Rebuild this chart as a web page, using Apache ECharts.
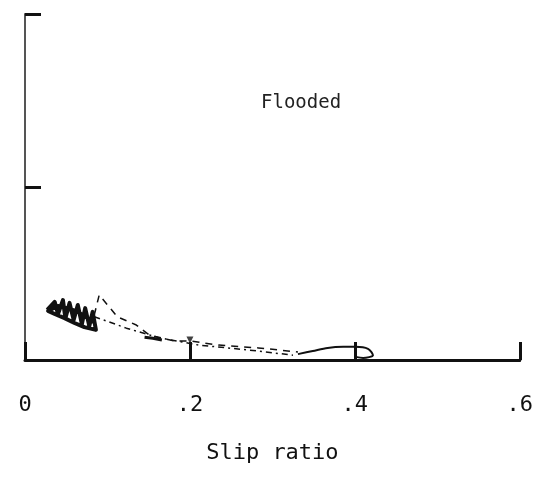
<!DOCTYPE html>
<html>
<head>
<meta charset="utf-8">
<script src="https://cdn.jsdelivr.net/npm/echarts@6/dist/echarts.min.js"></script>
<style>
  html, body { margin: 0; padding: 0; background: #fff; }
  #main { width: 536px; height: 497px; }
</style>
</head>
<body>
<div id="main"></div>
<script>
var xTicks = [0, 0.2, 0.4, 0.6];
var xTickLabels = ['0', '.2', '.4', '.6'];

// solid trace, scribbled cluster at low slip
var solidBlob = [
    [0.027, 0.145], [0.036, 0.168], [0.040, 0.133], [0.046, 0.173], [0.049, 0.121],
    [0.054, 0.165], [0.059, 0.116], [0.064, 0.159], [0.069, 0.104], [0.073, 0.150],
    [0.078, 0.098], [0.082, 0.139], [0.086, 0.087], [0.072, 0.095], [0.060, 0.107],
    [0.048, 0.121], [0.036, 0.133], [0.028, 0.142], [0.040, 0.156], [0.052, 0.150],
    [0.064, 0.139], [0.076, 0.121], [0.084, 0.110]
];
var solidMid = [[0.145, 0.066], [0.155, 0.063], [0.166, 0.058]];
// solid trace near .4 with its small loop
var solidEnd = [
    [0.331, 0.017], [0.349, 0.026], [0.367, 0.035], [0.386, 0.038], [0.401, 0.038],
    [0.416, 0.032], [0.422, 0.014], [0.410, 0.006], [0.401, 0.009]
];
// dashed trace
var dashed = [
    [0.084, 0.130], [0.090, 0.188], [0.112, 0.125], [0.135, 0.101], [0.151, 0.072],
    [0.181, 0.055], [0.200, 0.055], [0.235, 0.043], [0.283, 0.035], [0.331, 0.023]
];
// dash-dot trace
var dashDot = [
    [0.084, 0.125], [0.102, 0.110], [0.123, 0.092], [0.163, 0.064], [0.211, 0.043],
    [0.271, 0.029], [0.325, 0.014]
];
var marker = [[0.2, 0.058]];

var myChart = echarts.init(document.getElementById('main'));

var monoFont = 'DejaVu Sans Mono';

option = {
    animation: false,
    backgroundColor: '#fff',
    title: {
        text: 'Flooded',
        left: 256,
        top: 89,
        textStyle: {
            fontFamily: monoFont,
            fontSize: 19,
            fontWeight: 'normal',
            color: '#222'
        }
    },
    grid: {
        left: 25,
        right: 13,
        top: 14,
        bottom: 137
    },
    xAxis: {
        type: 'value',
        min: 0,
        max: 0.6,
        interval: 0.2,
        name: 'Slip ratio',
        nameLocation: 'middle',
        nameGap: 82,
        nameTextStyle: {
            fontFamily: monoFont,
            fontSize: 22,
            color: '#111'
        },
        axisLine: { lineStyle: { color: '#111', width: 3 } },
        axisTick: {
            inside: true,
            length: 18,
            lineStyle: { color: '#111', width: 3 }
        },
        axisLabel: {
            margin: 34,
            fontFamily: monoFont,
            fontSize: 22,
            color: '#111',
            formatter: function (v) {
                var i = xTicks.indexOf(Math.round(v * 10) / 10);
                return i >= 0 ? xTickLabels[i] : '';
            }
        },
        splitLine: { show: false }
    },
    yAxis: {
        type: 'value',
        min: 0,
        max: 1,
        interval: 0.5,
        axisLine: { show: true, lineStyle: { color: '#555', width: 2 } },
        axisTick: {
            show: true,
            inside: true,
            length: 16,
            lineStyle: { color: '#111', width: 3 }
        },
        axisLabel: { show: false },
        splitLine: { show: false }
    },
    series: [{
        type: 'line',
        data: solidBlob,
        symbol: 'none',
        lineStyle: { color: '#111', width: 4, join: 'round' }
    }, {
        type: 'line',
        data: solidMid,
        symbol: 'none',
        lineStyle: { color: '#111', width: 3 }
    }, {
        type: 'line',
        data: solidEnd,
        symbol: 'none',
        smooth: 0.3,
        lineStyle: { color: '#111', width: 2 }
    }, {
        type: 'line',
        data: dashed,
        symbol: 'none',
        lineStyle: { color: '#111', width: 1.5, type: [7, 6] }
    }, {
        type: 'line',
        data: dashDot,
        symbol: 'none',
        lineStyle: { color: '#111', width: 1.5, type: [6, 4, 2, 4] }
    }, {
        type: 'scatter',
        data: marker,
        symbol: 'triangle',
        symbolRotate: 180,
        symbolSize: 7,
        itemStyle: { color: '#111' }
    }]
};

myChart.setOption(option);
</script>
</body>
</html>
